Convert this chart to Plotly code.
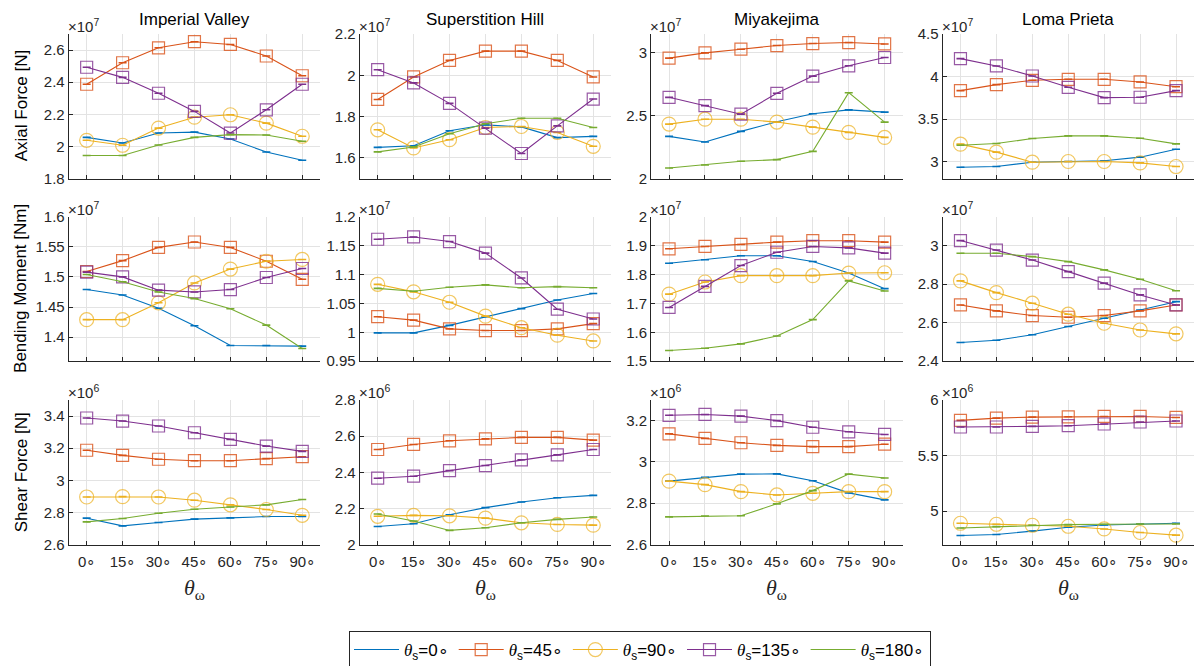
import plotly.graph_objects as go

W, H = 1198, 666

# ---- data -----------------------------------------------------------------
angles = [0, 15, 30, 45, 60, 75, 90]
angle_labels = ["0∘", "15∘", "30∘", "45∘", "60∘", "75∘", "90∘"]
records = ["Imperial Valley", "Superstition Hill", "Miyakejima", "Loma Prieta"]
quantities = ["Axial Force [N]", "Bending Moment [Nm]", "Shear Force [N]"]
exponents = [7, 7, 6]
theta_s = ["0", "45", "90", "135", "180"]

# each block: rows are theta_s = 0, 45, 90, 135, 180 (scaled by 10^exponent)
axial_imperial = [
    [2.056, 2.021, 2.083, 2.089, 2.046, 1.965, 1.914],
    [2.387, 2.521, 2.614, 2.652, 2.635, 2.563, 2.440],
    [2.038, 2.007, 2.114, 2.182, 2.197, 2.145, 2.063],
    [2.493, 2.430, 2.331, 2.218, 2.083, 2.228, 2.387],
    [1.943, 1.943, 2.009, 2.056, 2.073, 2.071, 2.032],
]
axial_superstition = [
    [1.651, 1.659, 1.731, 1.760, 1.750, 1.698, 1.704],
    [1.883, 1.992, 2.072, 2.117, 2.117, 2.072, 1.992],
    [1.736, 1.648, 1.688, 1.747, 1.752, 1.723, 1.656],
    [2.027, 1.963, 1.864, 1.744, 1.621, 1.755, 1.885],
    [1.629, 1.653, 1.717, 1.765, 1.792, 1.792, 1.747],
]
axial_miyakejima = [
    [2.335, 2.290, 2.375, 2.451, 2.515, 2.546, 2.528],
    [2.958, 3.000, 3.029, 3.058, 3.074, 3.082, 3.071],
    [2.433, 2.472, 2.472, 2.449, 2.409, 2.367, 2.327],
    [2.646, 2.580, 2.512, 2.678, 2.815, 2.897, 2.963],
    [2.084, 2.108, 2.137, 2.150, 2.216, 2.683, 2.449],
]
axial_loma = [
    [2.933, 2.941, 2.992, 3.000, 3.008, 3.051, 3.145],
    [3.834, 3.904, 3.955, 3.967, 3.967, 3.936, 3.880],
    [3.204, 3.110, 2.992, 3.000, 3.000, 2.984, 2.941],
    [4.210, 4.124, 4.006, 3.873, 3.752, 3.756, 3.834],
    [3.192, 3.211, 3.270, 3.301, 3.301, 3.274, 3.207],
]
moment_imperial = [
    [1.479, 1.470, 1.448, 1.419, 1.386, 1.386, 1.385],
    [1.509, 1.527, 1.549, 1.558, 1.549, 1.526, 1.496],
    [1.429, 1.429, 1.457, 1.490, 1.513, 1.526, 1.529],
    [1.508, 1.500, 1.478, 1.475, 1.479, 1.499, 1.514],
    [1.504, 1.492, 1.475, 1.464, 1.447, 1.420, 1.381],
]
moment_superstition = [
    [0.999, 0.999, 1.012, 1.027, 1.041, 1.056, 1.067],
    [1.027, 1.021, 1.006, 1.003, 1.003, 1.006, 1.015],
    [1.083, 1.070, 1.052, 1.028, 1.008, 0.995, 0.985],
    [1.161, 1.165, 1.157, 1.137, 1.094, 1.040, 1.023],
    [1.076, 1.071, 1.078, 1.082, 1.077, 1.079, 1.077],
]
moment_miyakejima = [
    [1.839, 1.851, 1.865, 1.865, 1.845, 1.805, 1.751],
    [1.889, 1.897, 1.904, 1.912, 1.917, 1.917, 1.912],
    [1.732, 1.774, 1.796, 1.796, 1.796, 1.805, 1.806],
    [1.686, 1.759, 1.831, 1.877, 1.897, 1.892, 1.874],
    [1.537, 1.545, 1.560, 1.587, 1.644, 1.778, 1.743],
]
moment_loma = [
    [2.497, 2.509, 2.537, 2.580, 2.623, 2.666, 2.709],
    [2.692, 2.661, 2.637, 2.628, 2.637, 2.661, 2.692],
    [2.817, 2.756, 2.701, 2.644, 2.597, 2.562, 2.542],
    [3.026, 2.977, 2.925, 2.865, 2.805, 2.744, 2.692],
    [2.960, 2.960, 2.943, 2.917, 2.874, 2.825, 2.766],
]
shear_imperial = [
    [2.764, 2.716, 2.737, 2.758, 2.766, 2.774, 2.774],
    [3.187, 3.155, 3.131, 3.122, 3.122, 3.135, 3.147],
    [2.896, 2.898, 2.896, 2.876, 2.847, 2.818, 2.782],
    [3.388, 3.369, 3.338, 3.296, 3.255, 3.213, 3.180],
    [2.741, 2.762, 2.795, 2.820, 2.834, 2.847, 2.880],
]
shear_superstition = [
    [2.100, 2.115, 2.165, 2.204, 2.235, 2.259, 2.272],
    [2.526, 2.554, 2.574, 2.585, 2.593, 2.593, 2.578],
    [2.156, 2.161, 2.159, 2.146, 2.120, 2.111, 2.107],
    [2.367, 2.378, 2.409, 2.437, 2.469, 2.496, 2.526],
    [2.169, 2.130, 2.078, 2.093, 2.120, 2.139, 2.152],
]
shear_miyakejima = [
    [2.907, 2.925, 2.941, 2.942, 2.909, 2.850, 2.816],
    [3.136, 3.114, 3.093, 3.080, 3.074, 3.074, 3.086],
    [2.907, 2.890, 2.856, 2.840, 2.848, 2.856, 2.856],
    [3.226, 3.230, 3.222, 3.200, 3.168, 3.146, 3.133],
    [2.734, 2.738, 2.739, 2.797, 2.861, 2.941, 2.922],
]
shear_loma = [
    [4.781, 4.790, 4.820, 4.855, 4.876, 4.885, 4.891],
    [5.817, 5.837, 5.846, 5.849, 5.852, 5.852, 5.843],
    [4.891, 4.882, 4.873, 4.864, 4.840, 4.808, 4.784],
    [5.757, 5.757, 5.763, 5.769, 5.784, 5.802, 5.811],
    [4.849, 4.861, 4.873, 4.879, 4.882, 4.885, 4.885],
]

grid_data = [
    [axial_imperial, axial_superstition, axial_miyakejima, axial_loma],
    [moment_imperial, moment_superstition, moment_miyakejima, moment_loma],
    [shear_imperial, shear_superstition, shear_miyakejima, shear_loma],
]

# ---- axis settings ----------------------------------------------------------
y_ranges = [
    [[1.8, 2.7], [1.5, 2.2], [2.0, 3.15], [2.8, 4.5]],
    [[1.36, 1.6], [0.95, 1.2], [1.5, 2.0], [2.4, 3.15]],
    [[2.6, 3.5], [2.0, 2.8], [2.6, 3.3], [4.7, 6.0]],
]
y_dticks = [
    [0.2, 0.2, 0.5, 0.5],
    [0.05, 0.05, 0.1, 0.2],
    [0.2, 0.2, 0.2, 0.5],
]

# ---- styling ----------------------------------------------------------------
colors = ["#0072BD", "#D95319", "#EDB120", "#7E2F8E", "#77AC30"]
marker_rgba = [None, "rgba(217,83,25,0.8)", "rgba(237,177,32,0.7)",
               "rgba(126,47,142,0.8)", None]
symbols = [None, "square-open", "circle-open", "square-open", None]
sizes = [0, 12, 14, 12, 0]

col_left = [68.7, 359.7, 651.1, 942.5]
col_w = 251.5
row_top = [34.0, 216.7, 400.0]
row_h = 144.5

AX = "#262626"
GRID = "#e3e3e3"
SANS = "Liberation Sans, Arial, Helvetica, sans-serif"
SERIF = "Liberation Serif, Times New Roman, serif"

fig = go.Figure()
annotations = []

for r in range(3):
    for c in range(4):
        k = r * 4 + c + 1
        xid = "x" if k == 1 else f"x{k}"
        yid = "y" if k == 1 else f"y{k}"
        xkey = "xaxis" if k == 1 else f"xaxis{k}"
        ykey = "yaxis" if k == 1 else f"yaxis{k}"

        x0 = col_left[c] / W
        x1 = (col_left[c] + col_w) / W
        y1 = 1 - row_top[r] / H
        y0 = 1 - (row_top[r] + row_h) / H

        block = grid_data[r][c]
        for s in range(5):
            mode = "lines+markers" if symbols[s] else "lines"
            tr = dict(
                x=angles, y=block[s], mode=mode, xaxis=xid, yaxis=yid,
                name=f"<span style=\"font-family:{SERIF}\"><i>θ</i></span><sub>s</sub>=" + theta_s[s] + "∘",
                legendgroup=str(s), showlegend=(k == 1),
                line=dict(color=colors[s], width=1.1),
                error_y=dict(type="constant", value=0, width=4, thickness=1.6,
                             color=colors[s]),
                hoverinfo="skip",
            )
            if symbols[s]:
                tr["marker"] = dict(symbol=symbols[s], size=sizes[s],
                                    color=marker_rgba[s],
                                    line=dict(color=marker_rgba[s], width=1.2))
            fig.add_trace(go.Scatter(**tr))

        fig.layout[xkey] = dict(
            domain=[x0, x1], anchor=yid, range=[-7.5, 97.5],
            tickvals=angles, ticktext=angle_labels, showticklabels=(r == 2),
            ticks="inside", ticklen=4, tickcolor=AX, tickwidth=1,
            showline=True, linecolor=AX, linewidth=1, mirror=False,
            showgrid=True, gridcolor=GRID, gridwidth=1, zeroline=False,
            tickfont=dict(family=SANS, size=15, color=AX),
            ticklabelstandoff=3,
            fixedrange=True,
        )
        fig.layout[ykey] = dict(
            domain=[y0, y1], anchor=xid, range=y_ranges[r][c],
            dtick=y_dticks[r][c], tick0=0,
            ticks="inside", ticklen=4, tickcolor=AX, tickwidth=1,
            showline=True, linecolor=AX, linewidth=1, mirror=False,
            showgrid=True, gridcolor=GRID, gridwidth=1, zeroline=False,
            tickfont=dict(family=SANS, size=15, color=AX),
            fixedrange=True,
        )

        # exponent label at the top-left corner of each axis
        annotations.append(dict(
            x=x0, y=y1, xref="paper", yref="paper", xanchor="left", yanchor="bottom",
            text=f"×10<sup>{exponents[r]}</sup>", showarrow=False,
            font=dict(family=SANS, size=15, color=AX), xshift=-3, yshift=-3,
        ))

        if r == 2:
            annotations.append(dict(
                x=(x0 + x1) / 2, y=1 - 589 / H, xref="paper", yref="paper",
                xanchor="center", yanchor="middle",
                text=f"<span style=\"font-family:{SERIF}\"><i>θ</i></span><sub>ω</sub>",
                showarrow=False, font=dict(family=SERIF, size=22, color=AX),
            ))
        if r == 0:
            annotations.append(dict(
                x=(x0 + x1) / 2, y=1 - 20 / H, xref="paper", yref="paper",
                xanchor="center", yanchor="middle", text=records[c],
                showarrow=False, font=dict(family=SANS, size=17, color="#000000"),
            ))
        if c == 0:
            annotations.append(dict(
                x=21 / W, y=(y0 + y1) / 2, xref="paper", yref="paper",
                xanchor="center", yanchor="middle", text=quantities[r],
                textangle=-90, showarrow=False,
                font=dict(family=SANS, size=17, color="#000000"),
            ))

fig.update_layout(
    width=W, height=H,
    margin=dict(l=0, r=0, t=0, b=0, autoexpand=False),
    paper_bgcolor="white", plot_bgcolor="white",
    annotations=annotations,
    showlegend=True,
    legend=dict(
        orientation="h", x=640 / W, xanchor="center", y=1 - 631 / H, yanchor="top",
        bordercolor=AX, borderwidth=1, bgcolor="white",
        font=dict(family=SANS, size=17, color="#000000"),
        itemwidth=45, tracegroupgap=0,
    ),
)

fig.write_html("out.html")
